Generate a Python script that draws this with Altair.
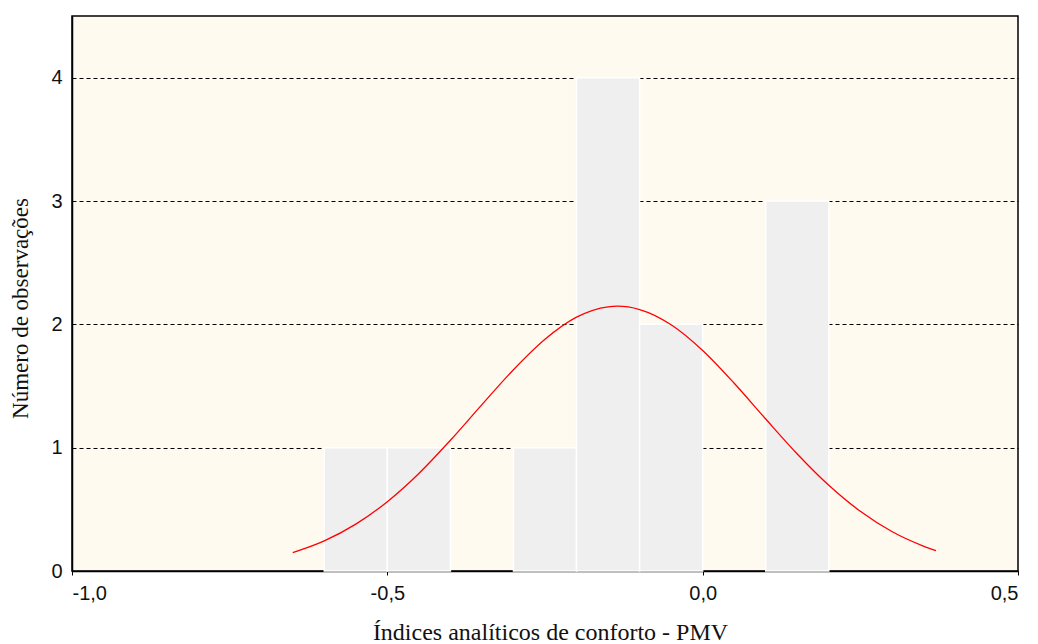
import altair as alt
import pandas as pd

# Histogram bins (lower edge, upper edge, count)
bin_start = [-0.6, -0.5, -0.3, -0.2, -0.1, 0.1]
bin_end = [-0.5, -0.4, -0.2, -0.1, 0.0, 0.2]
counts = [1, 1, 1, 4, 2, 3]

# Fitted normal curve
curve_x = [-0.65, -0.60, -0.55, -0.50, -0.45, -0.40, -0.35, -0.30, -0.25, -0.20,
           -0.15, -0.135, -0.10, -0.05, 0.00, 0.05, 0.10, 0.15, 0.20, 0.25,
           0.30, 0.35, 0.37]
curve_y = [0.149, 0.244, 0.380, 0.562, 0.791, 1.060, 1.349, 1.632, 1.879, 2.058,
           2.142, 2.147, 2.120, 1.997, 1.788, 1.522, 1.232, 0.949, 0.695, 0.484,
           0.320, 0.202, 0.165]

x_ticks = [-1.0, -0.5, 0.0, 0.5]
y_ticks = [0, 1, 2, 3, 4]

bars = pd.DataFrame({"x0": bin_start, "x1": bin_end, "n": counts})
curve = pd.DataFrame({"x": curve_x, "y": curve_y})

xscale = alt.Scale(domain=[-1.0, 0.5], nice=False, zero=False)
yscale = alt.Scale(domain=[0, 4.5], nice=False)

label_expr = "(datum.value < 0 ? '-' : '') + replace(format(abs(datum.value), '.1f'), '.', ',')"

xaxis = alt.Axis(values=x_ticks, labelExpr=label_expr, grid=False,
                 title="Índices analíticos de conforto - PMV",
                 titleFont="Liberation Serif", titleFontSize=24, titleFontWeight="normal",
                 titleColor="#111", titlePadding=17, titleX=478,
                 labelFont="Liberation Sans", labelFontSize=20, labelColor="#111",
                 labelPadding=8, tickSize=4, tickColor="black",
                 domainColor="black", domainWidth=1.5)
yaxis = alt.Axis(values=y_ticks, format="d", grid=True, gridColor="black", gridDash=[4, 3],
                 gridWidth=1, title="Número de observações",
                 titleFont="Liberation Serif", titleFontSize=23, titleFontWeight="normal",
                 titleColor="#111", titlePadding=18, titleY=292,
                 labelFont="Liberation Sans", labelFontSize=20, labelColor="#111",
                 labelPadding=10, tickSize=0, domainColor="black", domainWidth=1.5)

bar_layer = alt.Chart(bars).mark_rect(fill="#efefef", stroke="white", strokeWidth=1.5).encode(
    x=alt.X("x0:Q", scale=xscale, axis=xaxis),
    x2="x1:Q",
    y=alt.Y("n:Q", scale=yscale, axis=yaxis),
    y2=alt.datum(0),
)

line_layer = alt.Chart(curve).mark_line(color="#ff0000", strokeWidth=1.3, interpolate="monotone").encode(
    x=alt.X("x:Q", scale=xscale),
    y=alt.Y("y:Q", scale=yscale),
)

chart = alt.layer(bar_layer, line_layer).properties(
    width=946, height=555,
    autosize=alt.AutoSizeParams(type="none"),
    padding={"left": 72, "top": 16, "right": 20, "bottom": 73},
    background="white",
).configure_view(fill="#fffaf0", stroke="black", strokeWidth=1.5)

chart.save("out.html", embed_options={"renderer": "svg", "actions": False})
